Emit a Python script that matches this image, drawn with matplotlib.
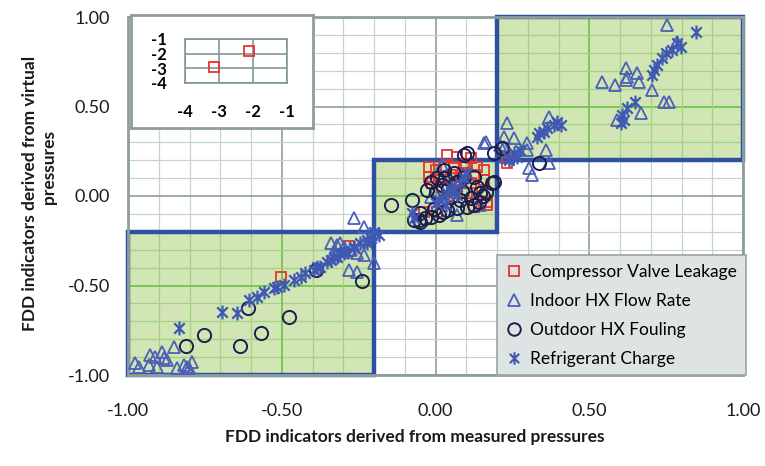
import matplotlib
matplotlib.use('Agg')
import matplotlib.pyplot as plt
from matplotlib.path import Path
from matplotlib.patches import Rectangle
from matplotlib.lines import Line2D

plt.rcParams['font.family'] = ['Lato', 'DejaVu Sans']

# ---------------- data ----------------
cvl_x = [-0.504, -0.28, 0.233, 0.233, 0.038, 0.071, 0.114, -0.022, 0.0, 0.027, 0.06, 0.092,
         0.136, 0.157, -0.022, 0.081, 0.114, 0.157, 0.168, 0.168, 0.125, -0.038, 0.005, 0.06,
         0.103, 0.038, 0.071, 0.016, 0.05, 0.09, 0.13, 0.02, -0.01, 0.15, 0.1]
cvl_y = [-0.451, -0.28, 0.22, 0.183, 0.229, 0.22, 0.21, 0.164, 0.145, 0.164, 0.154, 0.164,
         0.164, 0.145, 0.108, 0.089, 0.071, 0.089, -0.032, -0.05, -0.06, -0.088, -0.088, -0.004,
         0.015, 0.034, 0.052, 0.089, 0.12, 0.13, 0.12, 0.05, 0.07, 0.02, 0.18]

ihx_x = [-0.976, -0.965, -0.927, -0.911, -0.889, -0.884, -0.873, -0.851, -0.932, -0.905, -0.840,
         -0.819, -0.808, -0.791, -0.802, -0.341, -0.320, -0.298, -0.276, -0.255, -0.233, -0.282,
         -0.255, -0.266, -0.233, -0.200, -0.309, -0.331, 0.071, 0.163, 0.022, 0.146, -0.016,
         0.157, 0.211, 0.233, 0.222, 0.255, 0.222, 0.298, 0.358, 0.298, 0.369, 0.303, 0.314,
         0.369, 0.228, 0.753, 0.542, 0.585, 0.618, 0.623, 0.656, 0.661, 0.618, 0.705, 0.743,
         0.759, 0.667, 0.591, 0.786]
ihx_y = [-0.933, -0.954, -0.888, -0.898, -0.870, -0.907, -0.916, -0.842, -0.944, -0.954, -0.963,
         -0.944, -0.954, -0.926, -0.963, -0.264, -0.274, -0.283, -0.302, -0.320, -0.330, -0.413,
         -0.423, -0.125, -0.171, -0.376, -0.264, -0.311, -0.106, 0.303, 0.173, -0.05, -0.004,
         0.294, 0.285, 0.406, 0.331, 0.322, 0.275, 0.294, 0.257, 0.257, 0.443, 0.155, 0.117,
         0.183, 0.22, 0.955, 0.639, 0.620, 0.713, 0.666, 0.685, 0.639, 0.648, 0.592, 0.527,
         0.527, 0.462, 0.425, 0.862]

ohx_x = [-0.81, -0.753, -0.636, -0.569, -0.477, -0.609, -0.39, -0.238, -0.146, -0.076, -0.07,
         -0.049, -0.033, -0.016, 0.011, 0.038, 0.071, 0.103, 0.125, 0.146, 0.163, 0.184, 0.103,
         0.027, -0.016, 0.005, 0.06, 0.092, 0.125, 0.136, -0.027, 0.049, 0.081, 0.114, -0.049,
         -0.054, 0.092, 0.02, 0.04, 0.07, 0.0, 0.03, 0.19, 0.336, 0.19, 0.217, 0.06, 0.085,
         0.14, 0.155, -0.005, 0.025]
ohx_y = [-0.838, -0.777, -0.836, -0.767, -0.674, -0.627, -0.413, -0.473, -0.05, -0.022, -0.134,
         -0.144, -0.125, -0.115, -0.106, -0.078, -0.069, -0.06, -0.05, 0.015, 0.024, 0.071, 0.238,
         0.145, 0.08, 0.099, 0.127, 0.108, 0.108, 0.052, 0.034, -0.004, -0.022, -0.013, -0.097,
         -0.134, 0.229, 0.06, 0.04, 0.08, 0.02, 0.1, 0.238, 0.183, 0.08, 0.266, 0.06, 0.03,
         -0.035, 0.0, -0.07, -0.09]

ref_x = [-0.835, -0.694, -0.645, -0.607, -0.58, -0.558, -0.526, -0.515, -0.493, -0.461, -0.439,
         -0.423, -0.396, -0.385, -0.374, -0.352, -0.341, -0.331, -0.320, -0.309, -0.298, -0.287,
         -0.266, -0.266, -0.244, -0.222, -0.222, -0.206, -0.211, -0.184, -0.20, -0.076, -0.07,
         0.033, 0.011, 0.022, 0.038, 0.049, 0.06, 0.071, 0.081, 0.092, 0.103, 0.0, 0.05,
         0.238, 0.255, 0.276, 0.266, 0.238, 0.331, 0.336, 0.352, 0.363, 0.385, 0.396, 0.407,
         0.602, 0.612, 0.607, 0.623, 0.650, 0.705, 0.710, 0.721, 0.737, 0.748, 0.77, 0.797,
         0.786, 0.846]
ref_y = [-0.739, -0.646, -0.655, -0.581, -0.563, -0.535, -0.516, -0.507, -0.497, -0.469, -0.451,
         -0.432, -0.413, -0.395, -0.395, -0.367, -0.358, -0.339, -0.339, -0.320, -0.320, -0.311,
         -0.283, -0.292, -0.264, -0.246, -0.264, -0.218, -0.236, -0.218, -0.20, -0.097, -0.125,
         -0.05, -0.022, -0.004, 0.015, 0.052, 0.034, 0.006, 0.071, 0.099, 0.127, -0.04, 0.03,
         0.211, 0.238, 0.257, 0.22, 0.201, 0.331, 0.350, 0.359, 0.378, 0.397, 0.415, 0.397,
         0.406, 0.425, 0.453, 0.490, 0.527, 0.676, 0.704, 0.732, 0.769, 0.797, 0.816, 0.834,
         0.853, 0.918]

inset_x = [-2.12, -3.15]
inset_y = [-1.82, -2.9]

series_labels = ['Compressor Valve Leakage', 'Indoor HX Flow Rate', 'Outdoor HX Fouling',
                 'Refrigerant Charge']
major_ticks = [-1.0, -0.5, 0.0, 0.5, 1.0]
minor_ticks = [-0.9, -0.8, -0.7, -0.6, -0.4, -0.3, -0.2, -0.1, 0.1, 0.2, 0.3, 0.4,
               0.6, 0.7, 0.8, 0.9]
inset_ticks = [-4, -3, -2, -1]
box_lo = [-1.0, -0.2, 0.2]
box_hi = [-0.2, 0.2, 1.0]

# ---------------- style ----------------
W, H = 765, 466
def fx(px):
    return px / W
def fy(py):
    return 1 - py / H

RED = '#e8332e'
TRI = '#4b5fb7'
CIR = '#1b1f4f'
STAR = '#3f58b3'
GRAY = '#8e9e9c'
star_path = Path([(0, -1), (0, 1), (-0.75, -0.75), (0.75, 0.75), (-0.75, 0.75), (0.75, -0.75)],
                 [Path.MOVETO, Path.LINETO] * 3)

fig = plt.figure(figsize=(7.65, 4.66), dpi=100)
ax = fig.add_axes([fx(128), fy(375), fx(743) - fx(128), fy(17) - fy(375)])
ax.set_xlim(-1, 1)
ax.set_ylim(-1, 1)
ax.set_xticks(major_ticks)
ax.set_yticks(major_ticks)
ax.set_xticks(minor_ticks, minor=True)
ax.set_yticks(minor_ticks, minor=True)
ax.set_xticklabels(['%.2f' % t for t in major_ticks])
ax.set_yticklabels(['%.2f' % t for t in major_ticks])
ax.tick_params(which='both', length=0, labelsize=13, colors='#1a1a1a')
ax.tick_params(axis='x', pad=20)
ax.tick_params(axis='y', pad=13)
ax.set_axisbelow(True)
ax.grid(which='minor', color='#c8d2d1', lw=0.9)
ax.grid(which='major', color=GRAY, lw=1.2)
for s in ax.spines.values():
    s.set_color(GRAY)
    s.set_linewidth(2)

all_lines = [-1.0, -0.9, -0.8, -0.7, -0.6, -0.5, -0.4, -0.3, -0.2, -0.1, 0.0,
             0.1, 0.2, 0.3, 0.4, 0.5, 0.6, 0.7, 0.8, 0.9, 1.0]
for lo, hi in zip(box_lo, box_hi):
    ax.add_patch(Rectangle((lo, lo), hi - lo, hi - lo, facecolor='#d2e5b5', edgecolor='none',
                           zorder=1))
    for t in all_lines:
        if lo < t < hi:
            major = abs(t * 2 - round(t * 2)) < 1e-6
            c = '#6cc048' if major else '#9fd57f'
            lw = 1.2 if major else 0.9
            ax.plot([t, t], [lo, hi], color=c, lw=lw, zorder=1.1)
            ax.plot([lo, hi], [t, t], color=c, lw=lw, zorder=1.1)
    ax.add_patch(Rectangle((lo, lo), hi - lo, hi - lo, facecolor='none', edgecolor='#2c50a2',
                           lw=3.2, zorder=2, clip_on=False))

ax.plot(cvl_x, cvl_y, ls='none', marker='s', ms=7.5, mfc='none', mec=RED, mew=1.3, zorder=3)
ax.plot(ihx_x, ihx_y, ls='none', marker='^', ms=8.5, mfc='none', mec=TRI, mew=1.3, zorder=3)
ax.plot(ohx_x, ohx_y, ls='none', marker='o', ms=9.5, mfc='none', mec=CIR, mew=1.4, zorder=3)
ax.plot(ref_x, ref_y, ls='none', marker=star_path, ms=10, mfc='none', mec=STAR, mew=1.6,
        zorder=3)

handles = [
    Line2D([], [], ls='none', marker='s', ms=7.5, mfc='none', mec=RED, mew=1.3),
    Line2D([], [], ls='none', marker='^', ms=8.5, mfc='none', mec=TRI, mew=1.3),
    Line2D([], [], ls='none', marker='o', ms=9, mfc='none', mec=CIR, mew=1.4),
    Line2D([], [], ls='none', marker=star_path, ms=9, mfc='none', mec=STAR, mew=1.5),
]
leg = ax.legend(handles, series_labels, loc='upper left', bbox_to_anchor=(fx(497), fy(255)),
                bbox_transform=fig.transFigure, frameon=True, fancybox=False,
                facecolor='#dde4e3', edgecolor='#98a4a3', fontsize=12.5, handletextpad=0.4,
                labelspacing=0.75, borderpad=0.5, handlelength=1.0, borderaxespad=0)
leg.get_frame().set_alpha(1)
leg.get_frame().set_linewidth(1.2)
leg.set_zorder(10)

# axis titles
fig.text(fx(415), fy(437), 'FDD indicators derived from measured pressures', ha='center',
         va='center', fontsize=12.5, fontweight='bold', color='#1a1a1a')
fig.text(fx(30), fy(193), 'FDD indicators derived from virtual', ha='center', va='center',
         rotation=90, fontsize=12.5, fontweight='bold', color='#1a1a1a')
fig.text(fx(49), fy(167), 'pressures', ha='center', va='center',
         rotation=90, fontsize=12.5, fontweight='bold', color='#1a1a1a')

# inset
axb = fig.add_axes([fx(131), fy(128), (313 - 131) / W, (128 - 15) / H])
axb.set_facecolor('white')
axb.set_xticks([])
axb.set_yticks([])
for s in axb.spines.values():
    s.set_color(GRAY)
    s.set_linewidth(2)

axi = fig.add_axes([fx(185), fy(83), 102 / W, 44 / H])
axi.set_xlim(-4, -1)
axi.set_ylim(-4, -1)
axi.set_xticks(inset_ticks)
axi.set_yticks(inset_ticks)
axi.set_xticklabels([str(t) for t in inset_ticks])
axi.set_yticklabels([str(t) for t in inset_ticks])
axi.tick_params(length=0, labelsize=12)
axi.tick_params(axis='x', pad=15)
axi.tick_params(axis='y', pad=13)
for lab in axi.get_xticklabels() + axi.get_yticklabels():
    lab.set_fontweight('bold')
axi.set_facecolor('none')
axi.grid(color='#7f9792', lw=1.2)
for s in axi.spines.values():
    s.set_color('#7f9792')
    s.set_linewidth(1.2)
axi.plot(inset_x, inset_y, ls='none', marker='s', ms=7.5, mfc='none', mec=RED, mew=1.3,
         clip_on=False)

fig.savefig('out.png', dpi=100)
